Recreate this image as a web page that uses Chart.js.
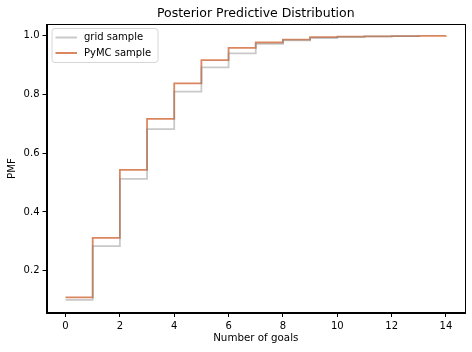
<!DOCTYPE html>
<html>
<head>
<meta charset="utf-8">
<script src="https://cdn.jsdelivr.net/npm/chart.js@4.4.0/dist/chart.umd.min.js"></script>
<style>
html,body{margin:0;padding:0;background:#fff;}
#wrap{width:472px;height:352px;}
</style>
</head>
<body>
<div id="wrap"><canvas id="c" width="472" height="352"></canvas></div>
<script>
const gridGoals = [0,1,2,3,4,5,6,7,8,9,10,11,12,13];
const gridCdf = [0.101,0.284,0.513,0.682,0.810,0.892,0.940,0.972,0.984,0.992,0.995,0.998,0.999,1.0];
const pymcGoals = [0,1,2,3,4,5,6,7,8,9,10,11,12,13,14];
const pymcCdf = [0.109,0.312,0.543,0.717,0.838,0.917,0.959,0.977,0.987,0.995,0.997,0.998,0.999,0.9995,1.0];
const xTicks = [0,2,4,6,8,10,12,14];
const yTicks = [0.2,0.4,0.6,0.8,1.0];
const seriesLabels = ['grid sample','PyMC sample'];
const titleText = 'Posterior Predictive Distribution';

const FONT = 'DejaVu Sans';
const TXT = '#000';

const frame = {
  id:'frame',
  afterDatasetsDraw(chart){
    const {ctx, chartArea:a} = chart;
    ctx.save();
    ctx.strokeStyle = '#000';
    ctx.lineWidth = 1;
    ctx.strokeRect(Math.round(a.left)+0.5, Math.round(a.top)+0.5, Math.round(a.right-a.left)-1, Math.round(a.bottom-a.top)-1);
    ctx.restore();
  },
  afterDraw(chart){
    const {ctx, chartArea:a} = chart;
    ctx.save();
    ctx.fillStyle = TXT;
    ctx.font = '12.5px "'+FONT+'"';
    ctx.textAlign = 'center';
    ctx.textBaseline = 'middle';
    ctx.fillText(titleText, (a.left+a.right)/2, 13.5);
    ctx.textAlign = 'left';
    const x0 = a.left+5.5, y0 = a.top+4.5, w = 106, h = 34;
    ctx.fillStyle = 'rgba(255,255,255,0.8)';
    ctx.strokeStyle = '#d6d6d6';
    ctx.lineWidth = 1;
    const r = 3;
    ctx.beginPath();
    ctx.moveTo(x0+r,y0);
    ctx.lineTo(x0+w-r,y0); ctx.quadraticCurveTo(x0+w,y0,x0+w,y0+r);
    ctx.lineTo(x0+w,y0+h-r); ctx.quadraticCurveTo(x0+w,y0+h,x0+w-r,y0+h);
    ctx.lineTo(x0+r,y0+h); ctx.quadraticCurveTo(x0,y0+h,x0,y0+h-r);
    ctx.lineTo(x0,y0+r); ctx.quadraticCurveTo(x0,y0,x0+r,y0);
    ctx.closePath();
    ctx.fill(); ctx.stroke();
    ctx.font = '10px "'+FONT+'"';
    ctx.textBaseline = 'middle';
    chart.data.datasets.forEach((ds,i)=>{
      const yy = y0 + 9 + i*15.5;
      ctx.strokeStyle = ds.borderColor;
      ctx.lineWidth = 2;
      ctx.beginPath(); ctx.moveTo(x0+3.5, yy); ctx.lineTo(x0+25, yy); ctx.stroke();
      ctx.fillStyle = TXT;
      ctx.fillText(ds.label, x0+32, yy);
    });
    ctx.restore();
  }
};

new Chart(document.getElementById('c'), {
  type:'line',
  data:{
    datasets:[
      {label:seriesLabels[0], data:gridGoals.map((g,i)=>({x:g,y:gridCdf[i]})), borderColor:'rgba(127,127,127,0.42)', borderWidth:1.8, pointRadius:0, stepped:'before', fill:false},
      {label:seriesLabels[1], data:pymcGoals.map((g,i)=>({x:g,y:pymcCdf[i]})), borderColor:'rgba(214,122,80,0.9)', borderWidth:1.8, pointRadius:0, stepped:'before', fill:false}
    ]
  },
  options:{
    responsive:false,
    animation:false,
    layout:{padding:{left:0,right:7,top:24,bottom:0}},
    plugins:{
      legend:{display:false},
      tooltip:{enabled:false},
      title:{display:false}
    },
    scales:{
      x:{type:'linear', min:-0.7, max:14.7,
        afterBuildTicks(s){ s.ticks = xTicks.map(v=>({value:v})); },
        afterFit(s){ s.height = 39; },
        grid:{drawOnChartArea:false, tickLength:4, tickColor:'#000', lineWidth:1},
        border:{display:true, color:'#000'},
        ticks:{color:TXT, font:{family:FONT,size:10}, padding:3, maxRotation:0, autoSkip:false, callback:v=>String(v)},
        title:{display:true, text:'Number of goals', color:TXT, font:{family:FONT,size:10.3}, padding:{top:0,bottom:7}}
      },
      y:{type:'linear', min:0.056, max:1.040,
        afterBuildTicks(s){ s.ticks = yTicks.map(v=>({value:v})); },
        afterFit(s){ s.width = 46.5; },
        grid:{drawOnChartArea:false, tickLength:4, tickColor:'#000', lineWidth:1},
        border:{display:true, color:'#000'},
        ticks:{color:TXT, font:{family:FONT,size:10}, padding:3, autoSkip:false, callback:v=>v.toFixed(1)},
        title:{display:true, text:'PMF', color:TXT, font:{family:FONT,size:10.3}, padding:{top:6,bottom:0}}
      }
    }
  },
  plugins:[frame]
});
</script>
</body>
</html>
